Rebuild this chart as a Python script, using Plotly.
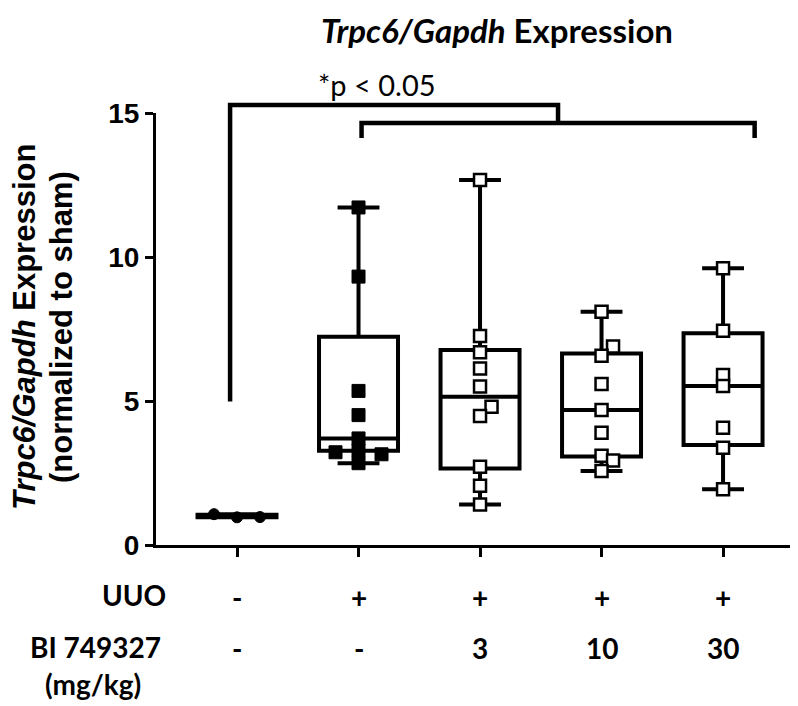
import plotly.graph_objects as go

# ---------------- data ----------------
groups = ["Sham", "UUO", "UUO + BI 3", "UUO + BI 10", "UUO + BI 30"]
uuo_row = ["-", "+", "+", "+", "+"]
bi_row = ["-", "-", "3", "10", "30"]

sham_vals = [0.96, 1.07, 0.97]
uuo_vals = [11.72, 9.32, 5.35, 4.51, 3.70, 3.28, 3.22, 3.15, 2.84]
bi3_vals = [12.67, 7.26, 6.69, 6.13, 5.50, 4.80, 4.48, 2.72, 2.06, 1.41]
bi10_vals = [8.10, 6.89, 6.57, 5.59, 4.69, 3.90, 3.10, 2.93, 2.57]
bi30_vals = [9.61, 7.44, 5.90, 5.52, 4.07, 3.38, 1.94]

box_q1 = [0.96, 3.27, 2.66, 3.07, 3.47]
box_median = [0.97, 3.70, 5.15, 4.69, 5.52]
box_q3 = [1.05, 7.23, 6.77, 6.65, 7.35]

yticks = [0, 5, 10, 15]

# ---------------- layout constants ----------------
O = 8                      # page body margin offset
W, H = 798 - O, 706 - O
ML = 156 - O
MT = 113 - O
MR = W - (790 - O)
MB = H - (545 - O)
XR = [0.3333, 5.551]
YR = [0, 15]
pw = W - ML - MR
ph = H - MT - MB
px_x = pw / (XR[1] - XR[0])
px_y = ph / (YR[1] - YR[0])


def swarm(vals, half=11.5, mind=10.5):
    """Greedy beeswarm: spread overlapping markers sideways (pixels -> data units)."""
    order = sorted(range(len(vals)), key=lambda i: vals[i])
    placed = []
    offs = [0.0] * len(vals)
    cands = [0, half, -half, 2 * half, -2 * half]
    for i in order:
        vy = vals[i] * px_y
        for c in cands:
            ok = all(((c - pc) ** 2 + (vy - py) ** 2) ** 0.5 >= mind for pc, py in placed)
            if ok:
                placed.append((c, vy))
                offs[i] = c / px_x
                break
    return offs


all_vals = [sham_vals, uuo_vals, bi3_vals, bi10_vals, bi30_vals]
positions = [1, 2, 3, 4, 5]

fig = go.Figure()

fig.add_trace(go.Box(
    x=positions,
    q1=box_q1, median=box_median, q3=box_q3,
    lowerfence=[min(v) for v in all_vals],
    upperfence=[max(v) for v in all_vals],
    width=0.65, whiskerwidth=0.53,
    line=dict(color="black", width=4),
    fillcolor="white", boxpoints=False, showlegend=False, hoverinfo="skip",
))

styles = [
    dict(symbol="circle", size=11, color="black", line=dict(color="black", width=1)),
    dict(symbol="square", size=13, color="black", line=dict(color="black", width=1)),
    dict(symbol="square", size=12, color="white", line=dict(color="black", width=2.5)),
    dict(symbol="square", size=12, color="white", line=dict(color="black", width=2.5)),
    dict(symbol="square", size=12, color="white", line=dict(color="black", width=2.5)),
]
swarm_step = [23, 23, 11.5, 11.5, 11.5]
swarm_gap = [12, 12, 10.5, 10.5, 10.5]

for pos, vals, st, name, stp, gap in zip(positions, all_vals, styles, groups, swarm_step, swarm_gap):
    offs = swarm(vals, half=stp, mind=gap)
    fig.add_trace(go.Scatter(
        x=[pos + o for o in offs], y=vals, mode="markers",
        marker=st, name=name, showlegend=False, cliponaxis=False,
    ))


def pv(v):
    return v / (YR[1] - YR[0])


blk = dict(color="black", width=4.5)
top_lvl, low_lvl = 15.28, 14.65
fig.add_shape(type="path", xref="x", yref="paper",
              path=f"M 0.943 {pv(4.98)} L 0.943 {pv(top_lvl)} L 3.642 {pv(top_lvl)} L 3.642 {pv(low_lvl)}",
              line=blk)
fig.add_shape(type="path", xref="x", yref="paper",
              path=f"M 2.025 {pv(14.13)} L 2.025 {pv(low_lvl)} L 5.26 {pv(low_lvl)} L 5.26 {pv(14.13)}",
              line=blk)


def paper_x(px):
    return (px - O - ML) / pw


def paper_y(py):
    return (H - MB - (py - O)) / ph


def note(text, x, y, font, xref="paper", angle=0):
    return dict(text=text, x=x, y=y, xref=xref, yref="paper", showarrow=False,
                xanchor="center", yanchor="middle", textangle=angle, font=font)


ann = []
ann.append(note("<i>Trpc6/Gapdh</i> Expression", paper_x(497), paper_y(30),
                dict(family="Lato", size=33, color="black", weight="bold")))
ann.append(note("*p < 0.05", paper_x(377), paper_y(84),
                dict(family="Lato", size=29, color="black")))
ytfont = dict(family="Liberation Sans", size=31, color="black", weight="bold")
ann.append(note("<i>Trpc6/Gapdh</i> Expression", paper_x(24), paper_y(327), ytfont, angle=-90))
ann.append(note("(normalized to sham)", paper_x(61), paper_y(327), ytfont, angle=-90))

rowfont = dict(family="Lato", size=28, color="black", weight="bold")
ann.append(note("UUO", paper_x(134), paper_y(595), rowfont))
ann.append(note("BI 749327", paper_x(95), paper_y(647), rowfont))
ann.append(note("(mg/kg)", paper_x(93), paper_y(684), rowfont))
for pos, a, b in zip(positions, uuo_row, bi_row):
    ann.append(note(a, pos, paper_y(597), rowfont, xref="x"))
    ann.append(note(b, pos, paper_y(648), rowfont, xref="x"))

fig.update_layout(
    width=W, height=H,
    margin=dict(l=ML, r=MR, t=MT, b=MB),
    paper_bgcolor="white", plot_bgcolor="white",
    annotations=ann,
    xaxis=dict(range=XR, tickvals=positions, showticklabels=False, ticks="outside",
               ticklen=9, tickwidth=3, tickcolor="black", showline=True, linewidth=3,
               linecolor="black", showgrid=False, zeroline=False),
    yaxis=dict(range=YR, tickvals=yticks, ticks="outside", ticklen=8, tickwidth=3,
               tickcolor="black", showline=True, linewidth=3, linecolor="black",
               showgrid=False, zeroline=False,
               tickfont=dict(family="Liberation Sans", size=28, color="black", weight="bold")),
)

fig.write_html("out.html")
